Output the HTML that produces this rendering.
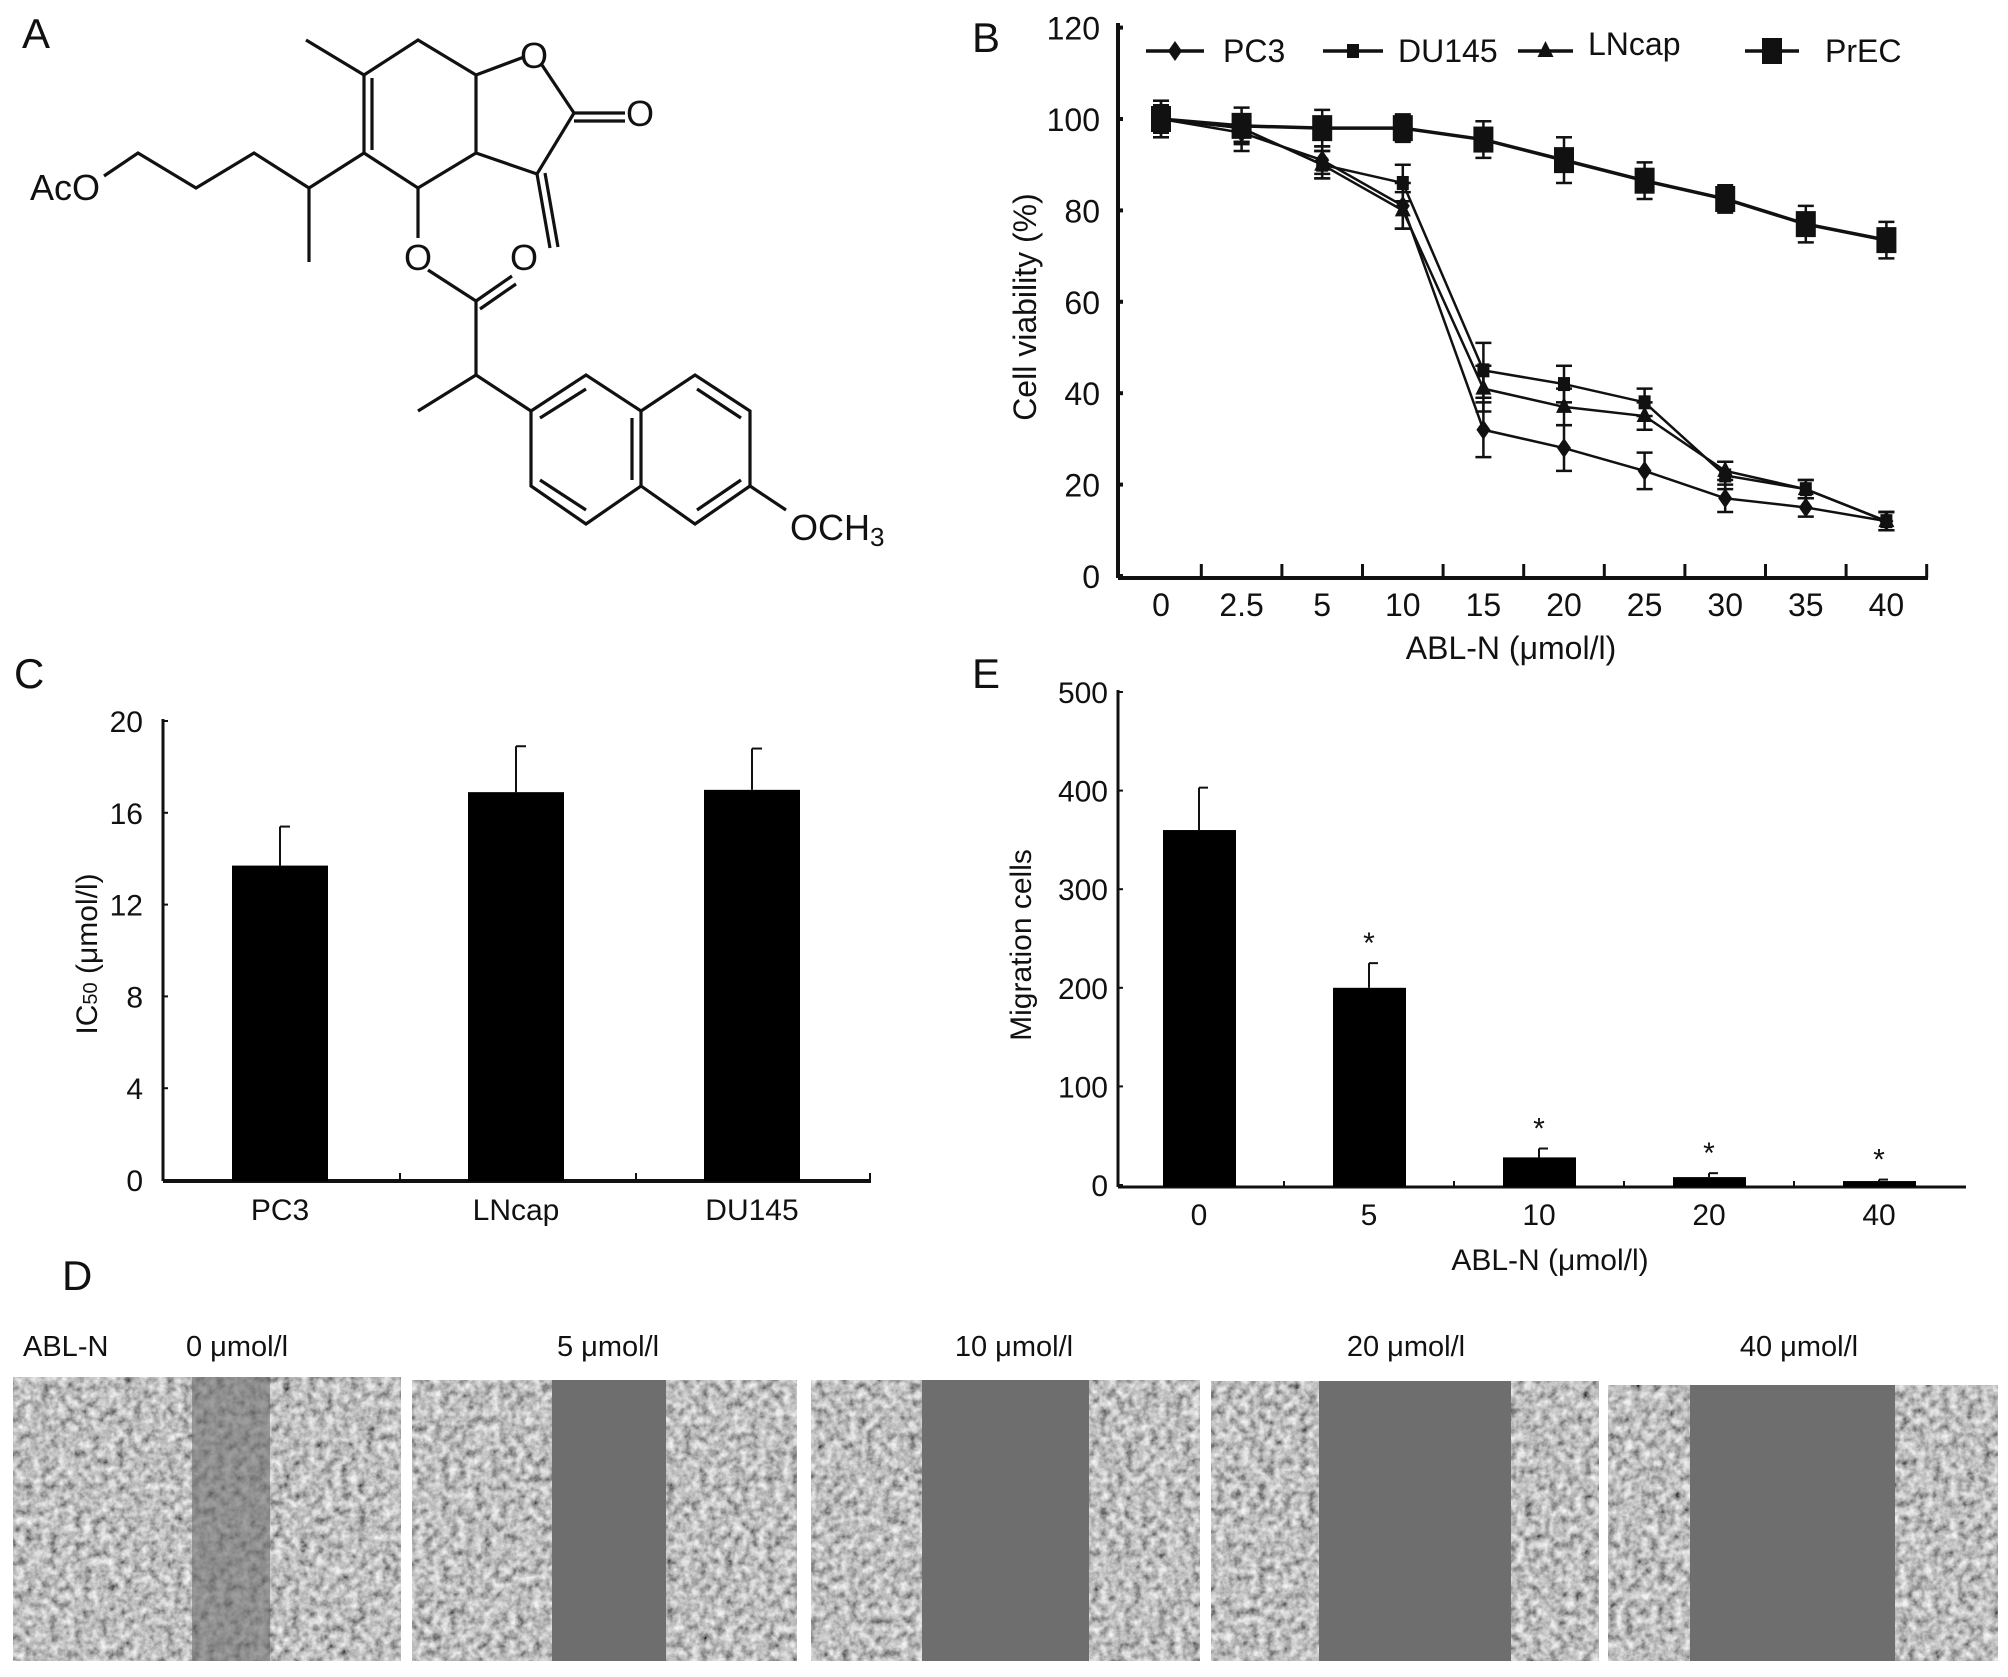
<!DOCTYPE html>
<html><head><meta charset="utf-8">
<style>
html,body{margin:0;padding:0;background:#fff;}
svg{display:block;}
text{font-family:"Liberation Sans Narrow","Liberation Sans",sans-serif;fill:#111;}
</style></head>
<body>
<svg id="fig" width="2008" height="1677" viewBox="0 0 2008 1677" xmlns="http://www.w3.org/2000/svg">
<defs>
<filter id="cells" x="0" y="0" width="100%" height="100%">
<feTurbulence type="fractalNoise" baseFrequency="0.12" numOctaves="3" seed="4" result="n"/>
<feColorMatrix type="matrix" values="1.3 0 0 0 -0.1  1.3 0 0 0 -0.1  1.3 0 0 0 -0.1  0 0 0 0 1"/>
</filter>
</defs>

<!-- Panel A: chemical structure -->
<g stroke="#111" stroke-width="3.2" fill="none">
<polyline points="306,40 364,75 418,40 476,75 524,57"/>
<polyline points="364,75 364,153"/><polyline points="372,78 372,150"/>
<polyline points="364,153 418,188 476,153 476,75"/>
<polyline points="542,65 574,113 537,174 476,153"/>
<polyline points="574,113 625,113"/><polyline points="574,121 625,121"/>
<polyline points="537,174 550,248"/><polyline points="545,173 558,247"/>
<polyline points="364,153 309,188 309,262"/>
<polyline points="309,188 254,153 196,188 138,153 104,176"/>
<polyline points="418,188 418,238"/>
<polyline points="428,270 476,301 476,375"/>
<polyline points="476,301 512,276"/><polyline points="480,309 516,284"/>
<polyline points="476,375 418,411"/><polyline points="476,375 531,411"/>
<polyline points="531,411 586,375 641,411 641,486 586,524 531,486 531,411"/>
<polyline points="641,411 695,375 750,411 750,486 695,524 641,486"/>
<polyline points="540,418 586,389"/><polyline points="540,480 586,510"/><polyline points="632,418 632,480"/>
<polyline points="697,389 741,418"/><polyline points="741,480 697,510"/>
<polyline points="750,486 786,510"/>
</g>
<g font-size="36">
<text x="22" y="48" font-size="42">A</text>
<text x="534" y="68" text-anchor="middle">O</text>
<text x="640" y="126" text-anchor="middle">O</text>
<text x="418" y="270" text-anchor="middle">O</text>
<text x="524" y="270" text-anchor="middle">O</text>
<text x="100" y="200" text-anchor="end">AcO</text>
<text x="790" y="540">OCH<tspan font-size="26" dy="6">3</tspan></text>
</g>

<text x="972" y="52" font-size="42">B</text>
<text x="14" y="688" font-size="42">C</text>
<text x="972" y="688" font-size="42">E</text>
<text x="62" y="1290" font-size="42">D</text>

<g id="chartB"></g>
<g id="chartC"></g>
<g id="chartE"></g>
<g id="panelD"></g>
</svg>
<script>
const doseLabels = ["0","2.5","5","10","15","20","25","30","35","40"];
const pc3Vals = [100,97,91,81,32,28,23,17,15,12];
const du145Vals = [100,98,90,86,45,42,38,22,19,12];
const lncapVals = [100,98,90,80,41,37,35,23,19,12];
const precVals = [100,98.5,98,98,95.5,91,86.5,82.5,77,73.5];
const pc3Err = [3,4,3,5,6,5,4,3,2,2];
const du145Err = [4,3,3,4,6,4,3,3,2,2];
const lncapErr = [3,3,3,4,5,4,3,2,2,2];
const precErr = [4,4,4,3,4,5,4,3,4,4];
const viabTicks = [0,20,40,60,80,100,120];
const ic50Cats = ["PC3","LNcap","DU145"];
const ic50Vals = [13.7,16.9,17.0];
const ic50Err = [1.7,2.0,1.8];
const ic50Ticks = [0,4,8,12,16,20];
const migCats = ["0","5","10","20","40"];
const migVals = [360,200,28,8,4];
const migErr = [43,25,9,4,1.5];
const migSig = [false,true,true,true,true];
const migTicks = [0,100,200,300,400,500];
const dLabels = ["0 μmol/l","5 μmol/l","10 μmol/l","20 μmol/l","40 μmol/l"];

const NS="http://www.w3.org/2000/svg";
function mk(parent,tag,attrs,txt){const e=document.createElementNS(NS,tag);for(const k in attrs)e.setAttribute(k,attrs[k]);if(txt!==undefined)e.textContent=txt;parent.appendChild(e);return e;}

(function(){
const g=document.getElementById('chartB');
const x0=1118,x1=1928,yTop=23,yBase=578;
const yS=v=>576-v*(576-119)/100;
const xS=i=>1161+i*80.6;
let a=mk(g,'line',{x1:x0,y1:yTop,x2:x0,y2:yBase,stroke:'#111','stroke-width':4});

a=mk(g,'line',{x1:x0,y1:yBase,x2:x1,y2:yBase,stroke:'#111','stroke-width':4});

viabTicks.forEach(t=>{
 mk(g,'line',{x1:x0,y1:yS(t),x2:x0+5,y2:yS(t),stroke:'#111','stroke-width':4});
 const tx=mk(g,'text',{x:x0-18,y:yS(t)+12,'font-size':32,'text-anchor':'end'},String(t));
 
});
for(let i=0;i<doseLabels.length;i++){const xx=xS(i)+40.3;mk(g,'line',{x1:xx,y1:yBase,x2:xx,y2:yBase-14,stroke:'#111','stroke-width':3});}
doseLabels.forEach((l,i)=>{const tx=mk(g,'text',{x:xS(i),y:616,'font-size':32,'text-anchor':'middle'},l);
 });
let t=mk(g,'text',{x:1511,y:659,'font-size':32,'text-anchor':'middle'},'ABL-N (μmol/l)');

t=mk(g,'text',{x:0,y:0,'font-size':32,'text-anchor':'middle',transform:'translate(1036,307) rotate(-90)'},'Cell viability (%)');


function marker(par,type,cx,cy){
 if(type==='diamond') return mk(par,'polygon',{points:`${cx},${cy-10} ${cx+7},${cy} ${cx},${cy+10} ${cx-7},${cy}`,fill:'#111'});
 if(type==='square') return mk(par,'rect',{x:cx-6,y:cy-7,width:12,height:14,fill:'#111'});
 if(type==='triangle') return mk(par,'polygon',{points:`${cx},${cy-10} ${cx+8},${cy+6} ${cx-8},${cy+6}`,fill:'#111'});
 return mk(par,'rect',{x:cx-10,y:cy-13,width:20,height:26,fill:'#111'});
}
const series=[['pc3',pc3Vals,pc3Err,'diamond'],['du145',du145Vals,du145Err,'square'],['lncap',lncapVals,lncapErr,'triangle'],['prec',precVals,precErr,'big']];
series.forEach(([nm,vals,err,type])=>{
 const sg=mk(g,'g',{});
 
 const pts=vals.map((v,i)=>xS(i)+','+yS(v)).join(' ');
 const pl=mk(sg,'polyline',{points:pts,fill:'none',stroke:'#111','stroke-width':type==='big'?3.5:2.5});
 
 vals.forEach((v,i)=>{
  const cx=xS(i),lo=yS(v-err[i]),hi=yS(v+err[i]);
  mk(sg,'line',{x1:cx,y1:lo,x2:cx,y2:hi,stroke:'#111','stroke-width':2.5});
  mk(sg,'line',{x1:cx-8,y1:lo,x2:cx+8,y2:lo,stroke:'#111','stroke-width':2.5});
  mk(sg,'line',{x1:cx-8,y1:hi,x2:cx+8,y2:hi,stroke:'#111','stroke-width':2.5});
  const m=marker(sg,type,cx,yS(v));
  
 });
});
const leg=[['PC3',1146,1204,1223,'diamond'],['DU145',1323,1383,1398,'square'],['LNcap',1518,1573,1588,'triangle'],['PrEC',1745,1799,1825,'big']];
leg.forEach(([l,a1,a2,tx,type])=>{
 const lg=mk(g,'g',{});
 
 mk(lg,'line',{x1:a1,y1:51,x2:a2,y2:51,stroke:'#111','stroke-width':3.5});
 marker(lg,type,(a1+a2)/2,51);
 mk(lg,'text',{x:tx,y:type==='triangle'?55:62,'font-size':32},l);
});
})();

(function(){
const g=document.getElementById('chartC');
const x0=163,x1=871,yBase=1181;
const yS=v=>1180-v*(1180-721)/20;
const xS=i=>280+i*236;
let a=mk(g,'line',{x1:x0,y1:719,x2:x0,y2:yBase,stroke:'#111','stroke-width':3});

a=mk(g,'line',{x1:x0,y1:yBase,x2:x1,y2:yBase,stroke:'#111','stroke-width':4});

[400,636,870].forEach(xx=>mk(g,'line',{x1:xx,y1:yBase,x2:xx,y2:yBase-8,stroke:'#111','stroke-width':2}));
ic50Ticks.forEach(t=>{mk(g,'line',{x1:x0,y1:yS(t),x2:x0+5,y2:yS(t),stroke:'#111','stroke-width':2});
 const tx=mk(g,'text',{x:143,y:yS(t)+11,'font-size':30,'text-anchor':'end'},String(t));
 });
ic50Vals.forEach((v,i)=>{
 const cx=xS(i);
 const eb=mk(g,'line',{x1:cx,y1:yS(v),x2:cx,y2:yS(v+ic50Err[i]),stroke:'#111','stroke-width':2});
 
 mk(g,'line',{x1:cx,y1:yS(v+ic50Err[i]),x2:cx+10,y2:yS(v+ic50Err[i]),stroke:'#111','stroke-width':2});
 const r=mk(g,'rect',{x:cx-48,y:yS(v),width:96,height:yBase-yS(v),fill:'#000'});
 
 const tx=mk(g,'text',{x:cx,y:1220,'font-size':30,'text-anchor':'middle'},ic50Cats[i]);
 
});
const t=mk(g,'text',{x:0,y:0,'font-size':30,'text-anchor':'middle',transform:'translate(97,954) rotate(-90)'});

t.innerHTML='IC<tspan font-size="20">50</tspan> (μmol/l)';
})();

(function(){
const g=document.getElementById('chartE');
const x0=1118,x1=1966,yBase=1187;
const yS=v=>1185-v*(1185-692)/500;
const xS=i=>1199+i*170;
let a=mk(g,'line',{x1:x0,y1:690,x2:x0,y2:yBase,stroke:'#111','stroke-width':3});

a=mk(g,'line',{x1:x0,y1:yBase,x2:x1,y2:yBase,stroke:'#111','stroke-width':3});

migTicks.forEach(t=>{mk(g,'line',{x1:x0,y1:yS(t),x2:x0+5,y2:yS(t),stroke:'#111','stroke-width':2});
 const tx=mk(g,'text',{x:1108,y:yS(t)+11,'font-size':30,'text-anchor':'end'},String(t));
 });
for(let i=0;i<4;i++) mk(g,'line',{x1:xS(i)+85,y1:yBase,x2:xS(i)+85,y2:yBase-6,stroke:'#111','stroke-width':2});
migVals.forEach((v,i)=>{
 const cx=xS(i),top=yS(v+migErr[i]);
 const eb=mk(g,'line',{x1:cx,y1:yS(v),x2:cx,y2:top,stroke:'#111','stroke-width':2});
 
 mk(g,'line',{x1:cx,y1:top,x2:cx+9,y2:top,stroke:'#111','stroke-width':2});
 const r=mk(g,'rect',{x:cx-36,y:yS(v),width:73,height:Math.max(2,yBase-yS(v)),fill:'#000'});
 
 if(migSig[i]){const s=mk(g,'text',{x:cx,y:top-10,'font-size':30,'text-anchor':'middle'},'*');
  }
 const tx=mk(g,'text',{x:cx,y:1225,'font-size':30,'text-anchor':'middle'},migCats[i]);
 
});
let t=mk(g,'text',{x:1550,y:1270,'font-size':30,'text-anchor':'middle'},'ABL-N (μmol/l)');

t=mk(g,'text',{x:0,y:0,'font-size':30,'text-anchor':'middle',transform:'translate(1031,945) rotate(-90)'},'Migration cells');

})();

(function(){
const g=document.getElementById('panelD');
const imgs=[[13,401,1377,192,270],[412,797,1380,552,666],[811,1200,1380,922,1089],[1211,1599,1381,1319,1511],[1608,1998,1385,1690,1895]];
let t=mk(g,'text',{x:23,y:1356,'font-size':29},'ABL-N');

const cxs=[237,608,1014,1406,1799];
dLabels.forEach((l,i)=>{const tx=mk(g,'text',{x:cxs[i],y:1356,'font-size':29,'text-anchor':'middle'},l);
 });
imgs.forEach(([a,b,y,g1,g2],i)=>{
 const ig=mk(g,'g',{});
 
 const h=1661-y;
 mk(ig,'rect',{x:a,y:y,width:b-a,height:h,fill:'#8a8a8a'});
 mk(ig,'rect',{x:a,y:y,width:b-a,height:h,filter:'url(#cells)',opacity:0.9});
 mk(ig,'rect',{x:g1,y:y,width:g2-g1,height:h,fill:'#6e6e6e',opacity:i===0?0.6:1});
});
})();
</script>
</body></html>
